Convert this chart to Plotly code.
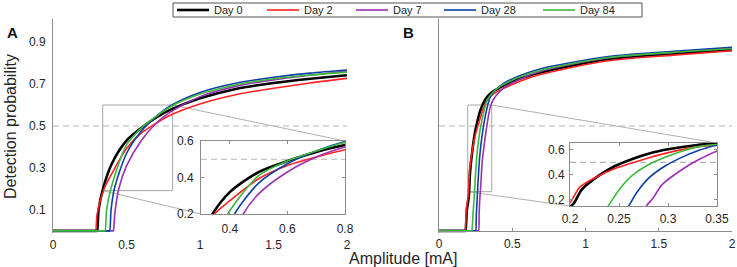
import plotly.graph_objects as go

# ---------------- data ----------------
days = ["Day 0", "Day 2", "Day 7", "Day 28", "Day 84"]
colors = ["#000000", "#FF2222", "#9B30B0", "#0D3FA6", "#3DB83D"]
widths = [2.6, 1.6, 1.6, 1.6, 1.6]

x_ticks = [0, 0.5, 1, 1.5, 2]
x_ticktext = ["0", "0.5", "1", "1.5", "2"]
yA_ticks = [0.1, 0.3, 0.5, 0.7, 0.9]
insetA_xticks = [0.4, 0.6, 0.8]
insetB_xticks = [0.2, 0.25, 0.3, 0.35]
inset_yticks = [0.2, 0.4, 0.6]
threshold = 0.5

# Panel A
A_day0_x = [0, 0.295, 0.30, 0.31, 0.34, 0.40, 0.50, 0.60, 0.70, 0.80, 1.00, 1.25, 1.50, 1.75, 2.00]
A_day0_y = [0, 0, 0, 0.10, 0.20, 0.32, 0.43, 0.49, 0.54, 0.578, 0.632, 0.678, 0.705, 0.725, 0.742]
A_day2_x = [0, 0.285, 0.29, 0.30, 0.347, 0.40, 0.50, 0.60, 0.70, 0.80, 1.00, 1.25, 1.50, 1.75, 2.00]
A_day2_y = [0, 0, 0, 0.08, 0.20, 0.273, 0.393, 0.466, 0.512, 0.552, 0.605, 0.65, 0.68, 0.705, 0.727]
A_day7_x = [0, 0.405, 0.41, 0.42, 0.447, 0.50, 0.60, 0.70, 0.80, 1.00, 1.25, 1.50, 1.75, 2.00]
A_day7_y = [0, 0, 0, 0.08, 0.20, 0.31, 0.43, 0.512, 0.567, 0.64, 0.69, 0.72, 0.742, 0.762]
A_day28_x = [0, 0.38, 0.385, 0.395, 0.417, 0.50, 0.60, 0.70, 0.80, 1.00, 1.25, 1.50, 1.75, 2.00]
A_day28_y = [0, 0, 0, 0.10, 0.20, 0.369, 0.475, 0.545, 0.597, 0.66, 0.705, 0.732, 0.752, 0.767]
A_day84_x = [0, 0.349, 0.354, 0.365, 0.393, 0.50, 0.60, 0.70, 0.80, 1.00, 1.25, 1.50, 1.75, 2.00]
A_day84_y = [0, 0, 0, 0.10, 0.20, 0.41, 0.49, 0.545, 0.592, 0.652, 0.697, 0.725, 0.743, 0.757]

# Panel B
B_day0_x = [0, 0.175, 0.18, 0.19, 0.203, 0.212, 0.229, 0.246, 0.263, 0.28, 0.30, 0.33, 0.37, 0.42, 0.46, 0.55, 0.69, 1.145, 1.6, 2.0]
B_day0_y = [0, 0, 0, 0.10, 0.16, 0.28, 0.39, 0.47, 0.525, 0.57, 0.605, 0.64, 0.665, 0.685, 0.70, 0.725, 0.755, 0.818, 0.845, 0.863]
B_day2_x = [0, 0.172, 0.177, 0.186, 0.20, 0.21, 0.229, 0.246, 0.263, 0.28, 0.297, 0.33, 0.37, 0.42, 0.46, 0.55, 0.69, 1.145, 1.6, 2.0]
B_day2_y = [0, 0, 0, 0.10, 0.174, 0.30, 0.39, 0.45, 0.495, 0.535, 0.572, 0.625, 0.652, 0.672, 0.685, 0.712, 0.745, 0.81, 0.838, 0.859]
B_day7_x = [0, 0.265, 0.27, 0.274, 0.278, 0.285, 0.294, 0.314, 0.331, 0.35, 0.37, 0.42, 0.46, 0.55, 0.69, 1.145, 1.6, 2.0]
B_day7_y = [0, 0, 0, 0.08, 0.147, 0.214, 0.32, 0.44, 0.52, 0.59, 0.625, 0.668, 0.69, 0.722, 0.76, 0.824, 0.852, 0.872]
B_day28_x = [0, 0.245, 0.25, 0.255, 0.26, 0.268, 0.28, 0.297, 0.314, 0.331, 0.345, 0.37, 0.42, 0.46, 0.55, 0.69, 1.145, 1.6, 2.0]
B_day28_y = [0, 0, 0, 0.08, 0.147, 0.254, 0.37, 0.47, 0.54, 0.595, 0.63, 0.66, 0.693, 0.711, 0.74, 0.772, 0.83, 0.856, 0.875]
B_day84_x = [0, 0.218, 0.223, 0.232, 0.239, 0.249, 0.263, 0.28, 0.297, 0.314, 0.331, 0.37, 0.42, 0.46, 0.55, 0.69, 1.145, 1.6, 2.0]
B_day84_y = [0, 0, 0, 0.08, 0.147, 0.267, 0.39, 0.48, 0.54, 0.59, 0.627, 0.662, 0.69, 0.705, 0.733, 0.765, 0.825, 0.851, 0.868]

A_series = [(A_day0_x, A_day0_y), (A_day2_x, A_day2_y), (A_day7_x, A_day7_y),
            (A_day28_x, A_day28_y), (A_day84_x, A_day84_y)]
B_series = [(B_day0_x, B_day0_y), (B_day2_x, B_day2_y), (B_day7_x, B_day7_y),
            (B_day28_x, B_day28_y), (B_day84_x, B_day84_y)]

# zoom boxes / ranges
main_xrange = [0, 2]
main_yrange = [-0.01, 1.01]
insetA_xrange = [0.3, 0.8]
insetA_yrange = [0.2, 0.6]
insetB_xrange = [0.2, 0.35]
insetB_yrange = [0.147, 0.656]
rectA = [0.338, 0.814, 0.192, 0.6]
rectB = [0.196, 0.36, 0.187, 0.6]

# ---------------- layout geometry ----------------
W, H = 737, 267
def px_x(p): return p / W
def px_y(p): return 1 - p / H

domA_x = [px_x(53), px_x(347)]
domB_x = [px_x(439), px_x(732)]
dom_y = [px_y(233), px_y(19)]
domIA_x = [px_x(201), px_x(345)]
domIA_y = [px_y(214), px_y(141)]
domIB_x = [px_x(570), px_x(717)]
domIB_y = [px_y(206), px_y(143)]

# legend geometry (pixels)
leg_box = [173, 642, 3, 17]
leg_line_x = [177, 267, 356, 444, 543]
leg_line_len = 32
leg_text_gap = 3
leg_y = 10

def to_paper(x, y, dx, xr, dy, yr):
    return (dx[0] + (x - xr[0]) / (xr[1] - xr[0]) * (dx[1] - dx[0]),
            dy[0] + (y - yr[0]) / (yr[1] - yr[0]) * (dy[1] - dy[0]))

FONT = "Liberation Sans, Arial, sans-serif"
TXT = "#262626"
AX = "#8c8c8c"

fig = go.Figure()

def add_set(series, xa, ya):
    for i, (xs, ys) in enumerate(series):
        fig.add_trace(go.Scatter(
            x=xs, y=ys, mode="lines", name=days[i],
            line=dict(color=colors[i], width=widths[i], shape="spline", smoothing=0.8),
            xaxis=xa, yaxis=ya, showlegend=False, hoverinfo="skip"))

add_set(A_series, "x", "y")
add_set(B_series, "x2", "y2")
add_set(A_series, "x3", "y3")
add_set(B_series, "x4", "y4")

tickfont = dict(family=FONT, size=12, color=TXT)
inset_font = dict(family=FONT, size=12, color=TXT)

fig.update_layout(
    width=W, height=H, margin=dict(l=0, r=0, t=0, b=0, autoexpand=False),
    paper_bgcolor="white", plot_bgcolor="white",
    font=dict(family=FONT, color=TXT),
    showlegend=False,
    xaxis=dict(domain=domA_x, range=main_xrange, tickvals=x_ticks, ticktext=x_ticktext,
               showline=False, ticks="", showgrid=False, zeroline=False, tickfont=tickfont,
               anchor="free", position=px_y(231), ticklabelstandoff=5, automargin=False),
    yaxis=dict(domain=dom_y, range=main_yrange, tickvals=yA_ticks, showline=True,
               linecolor=AX, linewidth=1, ticks="", showgrid=False, zeroline=False,
               tickfont=tickfont, ticklabelstandoff=4, anchor="x", automargin=False),
    xaxis2=dict(domain=domB_x, range=main_xrange, tickvals=x_ticks, ticktext=x_ticktext,
                showline=True, linecolor=AX, linewidth=1, ticks="inside", ticklen=3,
                tickcolor=AX, showgrid=False, zeroline=False, tickfont=tickfont,
                anchor="free", position=px_y(231), ticklabelstandoff=2, automargin=False),
    yaxis2=dict(domain=dom_y, range=main_yrange, showline=True, linecolor=AX, linewidth=1,
                ticks="", showticklabels=False, showgrid=False, zeroline=False, anchor="x2"),
    xaxis3=dict(domain=domIA_x, range=insetA_xrange, tickvals=insetA_xticks,
                showline=True, mirror="ticks", linecolor=AX, linewidth=1, ticks="inside",
                ticklen=3, tickcolor=AX, showgrid=False, zeroline=False, tickfont=inset_font,
                anchor="y3", ticklabelstandoff=4),
    yaxis3=dict(domain=domIA_y, range=insetA_yrange, tickvals=inset_yticks,
                showline=True, mirror="ticks", linecolor=AX, linewidth=1, ticks="inside",
                ticklen=3, tickcolor=AX, showgrid=False, zeroline=False, tickfont=inset_font,
                anchor="x3", ticklabelstandoff=4),
    xaxis4=dict(domain=domIB_x, range=insetB_xrange, tickvals=insetB_xticks,
                showline=True, mirror="ticks", linecolor=AX, linewidth=1, ticks="inside",
                ticklen=3, tickcolor=AX, showgrid=False, zeroline=False, tickfont=inset_font,
                anchor="y4", ticklabelstandoff=2),
    yaxis4=dict(domain=domIB_y, range=insetB_yrange, tickvals=inset_yticks,
                showline=True, mirror="ticks", linecolor=AX, linewidth=1, ticks="inside",
                ticklen=3, tickcolor=AX, showgrid=False, zeroline=False, tickfont=inset_font,
                anchor="x4", ticklabelstandoff=2),
)

dash_style = dict(color="#b5b5b5", width=1.2, dash="6px,4px")
box_style = dict(color="#a6a6a6", width=1)
shapes = [
    dict(type="line", xref="x", yref="y", x0=main_xrange[0], x1=main_xrange[1], y0=threshold, y1=threshold, line=dash_style, layer="below"),
    dict(type="line", xref="x2", yref="y2", x0=main_xrange[0], x1=main_xrange[1], y0=threshold, y1=threshold, line=dash_style, layer="below"),
    dict(type="line", xref="x3", yref="y3", x0=insetA_xrange[0], x1=insetA_xrange[1], y0=threshold, y1=threshold, line=dash_style, layer="below"),
    dict(type="line", xref="x4", yref="y4", x0=insetB_xrange[0], x1=insetB_xrange[1], y0=threshold, y1=threshold, line=dash_style, layer="below"),
    dict(type="rect", xref="x", yref="y", x0=rectA[0], x1=rectA[1], y0=rectA[2], y1=rectA[3], line=box_style, layer="below"),
    dict(type="rect", xref="x2", yref="y2", x0=rectB[0], x1=rectB[1], y0=rectB[2], y1=rectB[3], line=box_style, layer="below"),
]
# connector lines from zoom boxes to insets
pA1 = to_paper(rectA[1], rectA[3], domA_x, main_xrange, dom_y, main_yrange)
qA1 = to_paper(insetA_xrange[1], insetA_yrange[1], domIA_x, insetA_xrange, domIA_y, insetA_yrange)
pA2 = to_paper(rectA[0], rectA[2], domA_x, main_xrange, dom_y, main_yrange)
qA2 = to_paper(insetA_xrange[0], insetA_yrange[0], domIA_x, insetA_xrange, domIA_y, insetA_yrange)
pB1 = to_paper(rectB[1], rectB[3], domB_x, main_xrange, dom_y, main_yrange)
qB1 = to_paper(insetB_xrange[1], insetB_yrange[1], domIB_x, insetB_xrange, domIB_y, insetB_yrange)
pB2 = to_paper(rectB[0], rectB[2], domB_x, main_xrange, dom_y, main_yrange)
qB2 = to_paper(insetB_xrange[0], insetB_yrange[0], domIB_x, insetB_xrange, domIB_y, insetB_yrange)
for p, q in [(pA1, qA1), (pA2, qA2), (pB1, qB1), (pB2, qB2)]:
    shapes.append(dict(type="line", xref="paper", yref="paper", x0=p[0], y0=p[1], x1=q[0], y1=q[1],
                       line=dict(color="#b0b0b0", width=1), layer="below"))

# legend (box, samples)
shapes.append(dict(type="rect", xref="paper", yref="paper",
                   x0=px_x(leg_box[0]), x1=px_x(leg_box[1]), y0=px_y(leg_box[3]), y1=px_y(leg_box[2]),
                   line=dict(color="#555555", width=1), fillcolor="white", layer="above"))
annotations = []
for i, name in enumerate(days):
    x0 = leg_line_x[i]
    shapes.append(dict(type="line", xref="paper", yref="paper",
                       x0=px_x(x0), x1=px_x(x0 + leg_line_len), y0=px_y(leg_y), y1=px_y(leg_y),
                       line=dict(color=colors[i], width=widths[i]), layer="above"))
    annotations.append(dict(text=name, x=px_x(x0 + leg_line_len + leg_text_gap), y=px_y(leg_y),
                            xref="paper", yref="paper", showarrow=False, xanchor="left",
                            yanchor="middle", font=dict(family=FONT, size=11, color=TXT)))
fig.update_layout(shapes=shapes)

annotations += [
    dict(text="<b>A</b>", x=px_x(12.5), y=px_y(32.5), xref="paper", yref="paper",
         showarrow=False, font=dict(family=FONT, size=15, color="#111111"), xanchor="center", yanchor="middle"),
    dict(text="<b>B</b>", x=px_x(408), y=px_y(32.5), xref="paper", yref="paper",
         showarrow=False, font=dict(family=FONT, size=15, color="#111111"), xanchor="center", yanchor="middle"),
    dict(text="Detection probability", x=px_x(10), y=px_y(127), xref="paper", yref="paper",
         showarrow=False, textangle=-90, font=dict(family=FONT, size=16, color=TXT),
         xanchor="center", yanchor="middle"),
    dict(text="Amplitude [mA]", x=px_x(403), y=px_y(258), xref="paper", yref="paper",
         showarrow=False, font=dict(family=FONT, size=16, color=TXT),
         xanchor="center", yanchor="middle"),
]
fig.update_layout(annotations=annotations)

fig.write_html("out.html", config={"displayModeBar": False},
               post_script="document.body.style.margin='0';")
